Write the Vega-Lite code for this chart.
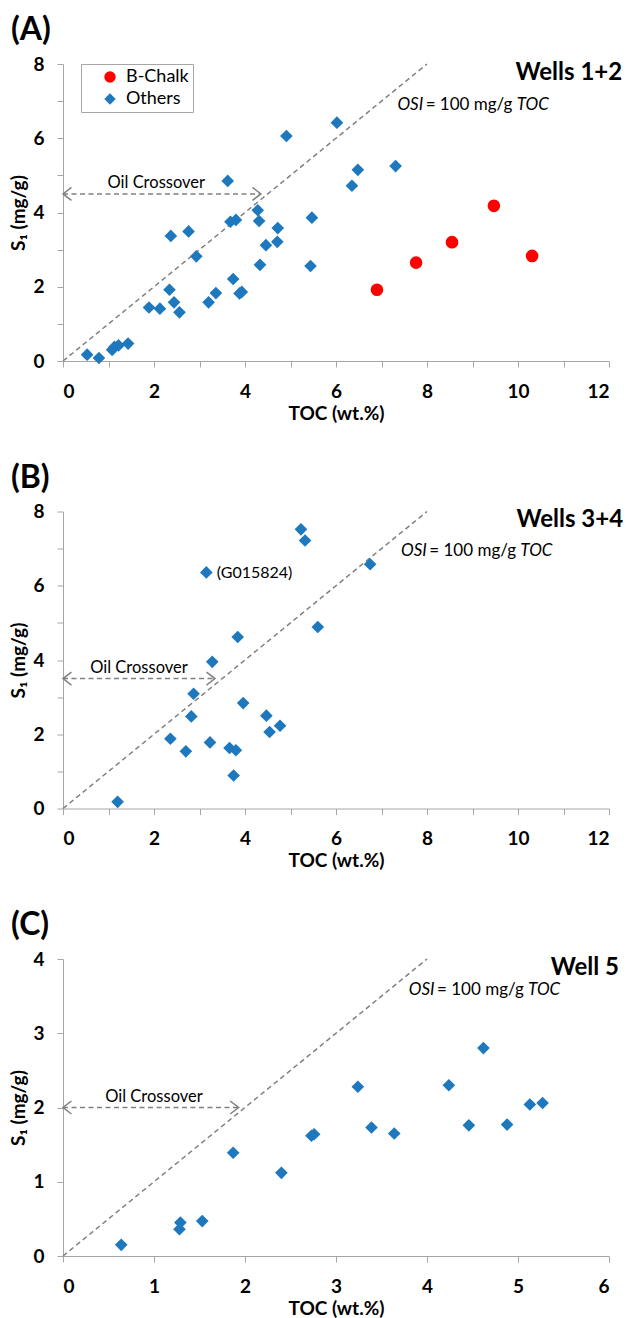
{
  "$schema": "https://vega.github.io/schema/vega-lite/v6.json",
  "background": "white",
  "padding": {"left": 9, "top": 14, "right": 0, "bottom": 0},
  "bounds": "flush",
  "spacing": 150.5,
  "config": {
    "view": {"stroke": null},
    "font": "Lato",
    "axis": {
      "grid": false,
      "domainColor": "#a6a6a6",
      "tickColor": "#a6a6a6",
      "tickSize": 6,
      "labelFont": "Lato",
      "labelFontWeight": "bold",
      "labelFontSize": 19,
      "labelColor": "#000000",
      "titleFont": "Lato",
      "titleFontWeight": "bold",
      "titleFontSize": 19,
      "titleColor": "#000000"
    },
    "axisX": {"labelPadding": 30, "labelBaseline": "alphabetic", "titleY": 58, "titleBaseline": "alphabetic"},
    "axisY": {"labelPadding": 13, "titleX": -45, "titleY": 148.5, "titleBaseline": "middle", "titleAlign": "center"},
    "title": {"anchor": "start", "frame": "group", "font": "Lato", "fontSize": 32, "fontWeight": "bold", "color": "#000000", "dx": -52, "offset": 8, "baseline": "alphabetic"}
  },
  "datasets": {
    "wells12": [
      {"toc": 0.53, "s1": 0.17, "group": "Others"},
      {"toc": 0.79, "s1": 0.08, "group": "Others"},
      {"toc": 1.08, "s1": 0.30, "group": "Others"},
      {"toc": 1.13, "s1": 0.38, "group": "Others"},
      {"toc": 1.22, "s1": 0.42, "group": "Others"},
      {"toc": 1.43, "s1": 0.47, "group": "Others"},
      {"toc": 1.89, "s1": 1.44, "group": "Others"},
      {"toc": 2.13, "s1": 1.41, "group": "Others"},
      {"toc": 2.34, "s1": 1.92, "group": "Others"},
      {"toc": 2.44, "s1": 1.58, "group": "Others"},
      {"toc": 2.56, "s1": 1.31, "group": "Others"},
      {"toc": 2.37, "s1": 3.37, "group": "Others"},
      {"toc": 2.76, "s1": 3.49, "group": "Others"},
      {"toc": 2.93, "s1": 2.82, "group": "Others"},
      {"toc": 3.20, "s1": 1.58, "group": "Others"},
      {"toc": 3.36, "s1": 1.83, "group": "Others"},
      {"toc": 3.62, "s1": 4.85, "group": "Others"},
      {"toc": 3.68, "s1": 3.75, "group": "Others"},
      {"toc": 3.80, "s1": 3.80, "group": "Others"},
      {"toc": 3.74, "s1": 2.21, "group": "Others"},
      {"toc": 3.88, "s1": 1.82, "group": "Others"},
      {"toc": 3.93, "s1": 1.86, "group": "Others"},
      {"toc": 4.28, "s1": 4.06, "group": "Others"},
      {"toc": 4.31, "s1": 3.77, "group": "Others"},
      {"toc": 4.33, "s1": 2.59, "group": "Others"},
      {"toc": 4.46, "s1": 3.12, "group": "Others"},
      {"toc": 4.72, "s1": 3.58, "group": "Others"},
      {"toc": 4.71, "s1": 3.21, "group": "Others"},
      {"toc": 4.91, "s1": 6.06, "group": "Others"},
      {"toc": 5.47, "s1": 3.86, "group": "Others"},
      {"toc": 5.44, "s1": 2.56, "group": "Others"},
      {"toc": 6.02, "s1": 6.42, "group": "Others"},
      {"toc": 6.35, "s1": 4.72, "group": "Others"},
      {"toc": 6.48, "s1": 5.15, "group": "Others"},
      {"toc": 7.31, "s1": 5.25, "group": "Others"},
      {"toc": 6.90, "s1": 1.92, "group": "B-Chalk"},
      {"toc": 7.76, "s1": 2.65, "group": "B-Chalk"},
      {"toc": 8.55, "s1": 3.20, "group": "B-Chalk"},
      {"toc": 9.47, "s1": 4.18, "group": "B-Chalk"},
      {"toc": 10.31, "s1": 2.83, "group": "B-Chalk"}
    ],
    "wells34": [
      {"toc": 1.20, "s1": 0.18},
      {"toc": 2.36, "s1": 1.88},
      {"toc": 2.70, "s1": 1.54},
      {"toc": 2.82, "s1": 2.48},
      {"toc": 2.87, "s1": 3.09},
      {"toc": 3.23, "s1": 1.78},
      {"toc": 3.28, "s1": 3.95},
      {"toc": 3.15, "s1": 6.36},
      {"toc": 3.66, "s1": 1.63},
      {"toc": 3.80, "s1": 1.57},
      {"toc": 3.75, "s1": 0.89},
      {"toc": 3.84, "s1": 4.62},
      {"toc": 3.96, "s1": 2.84},
      {"toc": 4.47, "s1": 2.50},
      {"toc": 4.54, "s1": 2.06},
      {"toc": 4.77, "s1": 2.23},
      {"toc": 5.23, "s1": 7.52},
      {"toc": 5.32, "s1": 7.22},
      {"toc": 5.60, "s1": 4.89},
      {"toc": 6.75, "s1": 6.58}
    ],
    "well5": [
      {"toc": 0.64, "s1": 0.15},
      {"toc": 1.28, "s1": 0.36},
      {"toc": 1.29, "s1": 0.45},
      {"toc": 1.53, "s1": 0.47},
      {"toc": 1.87, "s1": 1.39},
      {"toc": 2.40, "s1": 1.12},
      {"toc": 2.73, "s1": 1.62},
      {"toc": 2.76, "s1": 1.64},
      {"toc": 3.24, "s1": 2.28},
      {"toc": 3.39, "s1": 1.73},
      {"toc": 3.64, "s1": 1.65},
      {"toc": 4.24, "s1": 2.30},
      {"toc": 4.46, "s1": 1.76},
      {"toc": 4.62, "s1": 2.80},
      {"toc": 4.88, "s1": 1.77},
      {"toc": 5.13, "s1": 2.04},
      {"toc": 5.27, "s1": 2.06}
    ]
  },
  "vconcat": [
    {
      "width": 546,
      "height": 297,
      "title": {"text": "(A)"},
      "encoding": {
        "x": {"field": "toc", "type": "quantitative", "scale": {"domain": [0, 12], "nice": false},
              "axis": {"title": "TOC (wt.%)", "format": "d", "values": [0, 1, 2, 3, 4, 5, 6, 7, 8, 9, 10, 11, 12], "labelExpr": "datum.value % 2 === 0 ? datum.label : ''"}},
        "y": {"field": "s1", "type": "quantitative", "scale": {"domain": [0, 8], "nice": false},
              "axis": {"title": "S₁ (mg/g)", "format": "d", "values": [0, 1, 2, 3, 4, 5, 6, 7, 8], "labelExpr": "datum.value % 2 === 0 ? datum.label : ''"}}
      },
      "layer": [
        {"data": {"values": [{"toc": 0, "s1": 0}, {"toc": 8, "s1": 8}]},
         "mark": {"type": "line", "color": "#808080", "strokeWidth": 1.5, "strokeDash": [5, 3.5]}, "encoding": {}},
        {"data": {"values": [{"toc": 0, "s1": 4.5}, {"toc": 4.35, "s1": 4.5}]},
         "mark": {"type": "line", "color": "#808080", "strokeWidth": 1.5, "strokeDash": [5, 3.5]}, "encoding": {}},
        {"data": {"values": [{"toc": 0, "s1": 4.5}]},
         "mark": {"type": "point", "shape": "M1.3,-1L0,0L1.3,1", "filled": false, "color": "#808080", "size": 169, "strokeWidth": 1.5, "opacity": 1}},
        {"data": {"values": [{"toc": 4.35, "s1": 4.5}]},
         "mark": {"type": "point", "shape": "M-1.3,-1L0,0L-1.3,1", "filled": false, "color": "#808080", "size": 169, "strokeWidth": 1.5, "opacity": 1}},
        {"data": {"name": "wells12"},
         "mark": {"type": "point", "filled": true, "size": 160, "opacity": 1},
         "encoding": {
           "color": {"field": "group", "type": "nominal",
                     "scale": {"domain": ["B-Chalk", "Others"], "range": ["#ff0000", "#1e78be"]},
                     "legend": {"title": null, "orient": "none", "legendX": 18, "legendY": 0, "strokeColor": "#a6a6a6", "fillColor": "#ffffff", "padding": 4, "symbolOffset": 16, "labelOffset": 7, "labelFont": "Lato", "labelFontSize": 18, "labelColor": "#000000", "symbolSize": 130, "rowPadding": 4, "labelExpr": "datum.label + '\u00a0\u00a0\u00a0\u00a0\u00a0'"}},
           "shape": {"field": "group", "type": "nominal",
                     "scale": {"domain": ["B-Chalk", "Others"], "range": ["circle", "diamond"]},
                     "legend": {"title": null, "orient": "none", "legendX": 18, "legendY": 0, "strokeColor": "#a6a6a6", "fillColor": "#ffffff", "padding": 4, "symbolOffset": 16, "labelOffset": 7, "labelFont": "Lato", "labelFontSize": 18, "labelColor": "#000000", "symbolSize": 130, "rowPadding": 4, "labelExpr": "datum.label + '\u00a0\u00a0\u00a0\u00a0\u00a0'"}}
         }},
        {"data": {"values": [{"toc": 12.29, "s1": 7.57, "label": "Wells 1+2"}]},
         "mark": {"type": "text", "align": "right", "baseline": "alphabetic", "font": "Lato", "fontSize": 24, "fontWeight": "bold", "color": "#000000"},
         "encoding": {"text": {"field": "label"}}},
        {"data": {"values": [{"toc": 2.05, "s1": 4.65, "label": "Oil Crossover"}]},
         "mark": {"type": "text", "align": "center", "baseline": "alphabetic", "font": "Lato", "fontSize": 16.5, "color": "#000000"},
         "encoding": {"text": {"field": "label"}}},
        {"data": {"values": [{"toc": 7.35, "s1": 6.75, "label": "OSI"}, {"toc": 9.97, "s1": 6.75, "label": "TOC"}]},
         "mark": {"type": "text", "align": "left", "baseline": "alphabetic", "font": "Lato", "fontSize": 17, "fontStyle": "italic", "color": "#000000"},
         "encoding": {"text": {"field": "label"}}},
        {"data": {"values": [{"toc": 7.97, "s1": 6.75, "label": "= 100 mg/g"}]},
         "mark": {"type": "text", "align": "left", "baseline": "alphabetic", "font": "Lato", "fontSize": 17, "color": "#000000"},
         "encoding": {"text": {"field": "label"}}}
      ]
    },
    {
      "width": 546,
      "height": 297,
      "title": {"text": "(B)"},
      "encoding": {
        "x": {"field": "toc", "type": "quantitative", "scale": {"domain": [0, 12], "nice": false},
              "axis": {"title": "TOC (wt.%)", "format": "d", "values": [0, 1, 2, 3, 4, 5, 6, 7, 8, 9, 10, 11, 12], "labelExpr": "datum.value % 2 === 0 ? datum.label : ''"}},
        "y": {"field": "s1", "type": "quantitative", "scale": {"domain": [0, 8], "nice": false},
              "axis": {"title": "S₁ (mg/g)", "format": "d", "values": [0, 1, 2, 3, 4, 5, 6, 7, 8], "labelExpr": "datum.value % 2 === 0 ? datum.label : ''"}}
      },
      "layer": [
        {"data": {"values": [{"toc": 0, "s1": 0}, {"toc": 8, "s1": 8}]},
         "mark": {"type": "line", "color": "#808080", "strokeWidth": 1.5, "strokeDash": [5, 3.5]}, "encoding": {}},
        {"data": {"values": [{"toc": 0, "s1": 3.5}, {"toc": 3.34, "s1": 3.5}]},
         "mark": {"type": "line", "color": "#808080", "strokeWidth": 1.5, "strokeDash": [5, 3.5]}, "encoding": {}},
        {"data": {"values": [{"toc": 0, "s1": 3.5}]},
         "mark": {"type": "point", "shape": "M1.3,-1L0,0L1.3,1", "filled": false, "color": "#808080", "size": 169, "strokeWidth": 1.5, "opacity": 1}},
        {"data": {"values": [{"toc": 3.34, "s1": 3.5}]},
         "mark": {"type": "point", "shape": "M-1.3,-1L0,0L-1.3,1", "filled": false, "color": "#808080", "size": 169, "strokeWidth": 1.5, "opacity": 1}},
        {"data": {"name": "wells34"},
         "mark": {"type": "point", "filled": true, "shape": "diamond", "color": "#1e78be", "size": 160, "opacity": 1}},
        {"data": {"values": [{"toc": 3.38, "s1": 6.33, "label": "(G015824)"}]},
         "mark": {"type": "text", "align": "left", "baseline": "middle", "font": "Lato", "fontSize": 16, "color": "#000000"},
         "encoding": {"text": {"field": "label"}}},
        {"data": {"values": [{"toc": 12.31, "s1": 7.57, "label": "Wells 3+4"}]},
         "mark": {"type": "text", "align": "right", "baseline": "alphabetic", "font": "Lato", "fontSize": 24, "fontWeight": "bold", "color": "#000000"},
         "encoding": {"text": {"field": "label"}}},
        {"data": {"values": [{"toc": 1.67, "s1": 3.64, "label": "Oil Crossover"}]},
         "mark": {"type": "text", "align": "center", "baseline": "alphabetic", "font": "Lato", "fontSize": 16.5, "color": "#000000"},
         "encoding": {"text": {"field": "label"}}},
        {"data": {"values": [{"toc": 7.43, "s1": 6.79, "label": "OSI"}, {"toc": 10.05, "s1": 6.79, "label": "TOC"}]},
         "mark": {"type": "text", "align": "left", "baseline": "alphabetic", "font": "Lato", "fontSize": 17, "fontStyle": "italic", "color": "#000000"},
         "encoding": {"text": {"field": "label"}}},
        {"data": {"values": [{"toc": 8.05, "s1": 6.79, "label": "= 100 mg/g"}]},
         "mark": {"type": "text", "align": "left", "baseline": "alphabetic", "font": "Lato", "fontSize": 17, "color": "#000000"},
         "encoding": {"text": {"field": "label"}}}
      ]
    },
    {
      "width": 546,
      "height": 297,
      "title": {"text": "(C)"},
      "encoding": {
        "x": {"field": "toc", "type": "quantitative", "scale": {"domain": [0, 6], "nice": false},
              "axis": {"title": "TOC (wt.%)", "format": "d", "values": [0, 0.5, 1, 1.5, 2, 2.5, 3, 3.5, 4, 4.5, 5, 5.5, 6], "labelExpr": "datum.value % 1 === 0 ? datum.label : ''"}},
        "y": {"field": "s1", "type": "quantitative", "scale": {"domain": [0, 4], "nice": false},
              "axis": {"title": "S₁ (mg/g)", "format": "d", "values": [0, 0.5, 1, 1.5, 2, 2.5, 3, 3.5, 4], "labelExpr": "datum.value % 1 === 0 ? datum.label : ''"}}
      },
      "layer": [
        {"data": {"values": [{"toc": 0, "s1": 0}, {"toc": 4, "s1": 4}]},
         "mark": {"type": "line", "color": "#808080", "strokeWidth": 1.5, "strokeDash": [5, 3.5]}, "encoding": {}},
        {"data": {"values": [{"toc": 0, "s1": 2.0}, {"toc": 1.93, "s1": 2.0}]},
         "mark": {"type": "line", "color": "#808080", "strokeWidth": 1.5, "strokeDash": [5, 3.5]}, "encoding": {}},
        {"data": {"values": [{"toc": 0, "s1": 2.0}]},
         "mark": {"type": "point", "shape": "M1.3,-1L0,0L1.3,1", "filled": false, "color": "#808080", "size": 169, "strokeWidth": 1.5, "opacity": 1}},
        {"data": {"values": [{"toc": 1.93, "s1": 2.0}]},
         "mark": {"type": "point", "shape": "M-1.3,-1L0,0L-1.3,1", "filled": false, "color": "#808080", "size": 169, "strokeWidth": 1.5, "opacity": 1}},
        {"data": {"name": "well5"},
         "mark": {"type": "point", "filled": true, "shape": "diamond", "color": "#1e78be", "size": 160, "opacity": 1}},
        {"data": {"values": [{"toc": 6.11, "s1": 3.78, "label": "Well 5"}]},
         "mark": {"type": "text", "align": "right", "baseline": "alphabetic", "font": "Lato", "fontSize": 24, "fontWeight": "bold", "color": "#000000"},
         "encoding": {"text": {"field": "label"}}},
        {"data": {"values": [{"toc": 1.0, "s1": 2.07, "label": "Oil Crossover"}]},
         "mark": {"type": "text", "align": "center", "baseline": "alphabetic", "font": "Lato", "fontSize": 16.5, "color": "#000000"},
         "encoding": {"text": {"field": "label"}}},
        {"data": {"values": [{"toc": 3.80, "s1": 3.51, "label": "OSI"}, {"toc": 5.11, "s1": 3.51, "label": "TOC"}]},
         "mark": {"type": "text", "align": "left", "baseline": "alphabetic", "font": "Lato", "fontSize": 17, "fontStyle": "italic", "color": "#000000"},
         "encoding": {"text": {"field": "label"}}},
        {"data": {"values": [{"toc": 4.11, "s1": 3.51, "label": "= 100 mg/g"}]},
         "mark": {"type": "text", "align": "left", "baseline": "alphabetic", "font": "Lato", "fontSize": 17, "color": "#000000"},
         "encoding": {"text": {"field": "label"}}}
      ]
    }
  ]
}
